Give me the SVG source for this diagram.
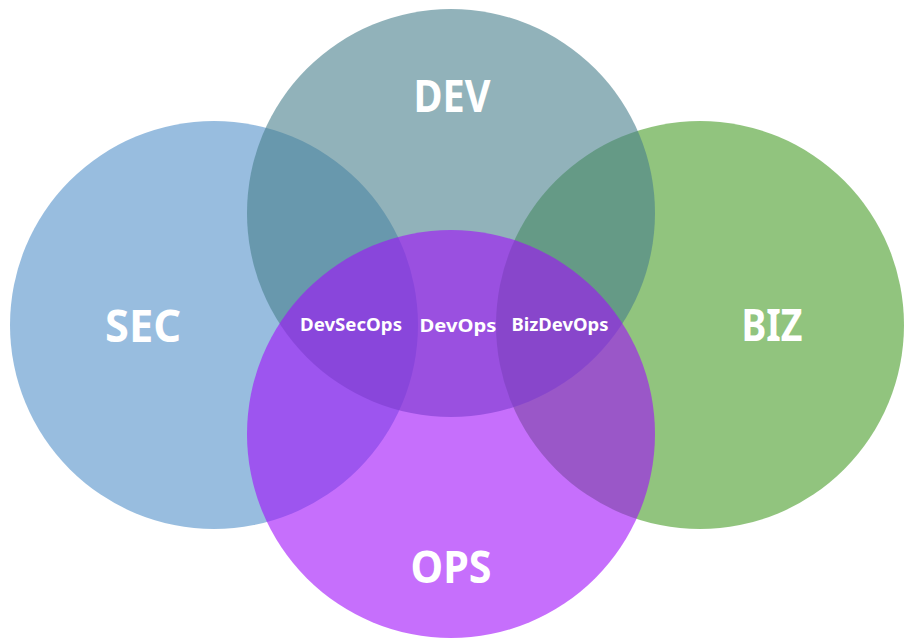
<svg xmlns="http://www.w3.org/2000/svg" width="904" height="639" viewBox="0 0 904 639">
<style>
.c{opacity:0.6}
.big{font-family:"Noto Sans","Open Sans",sans-serif;font-weight:bold;font-size:44px;fill:#fff;text-anchor:middle}
.small{font-family:"Noto Sans","Open Sans",sans-serif;font-weight:bold;font-size:17.5px;fill:#fff;text-anchor:middle}
</style>
<rect width="904" height="639" fill="#fff"/>
<g id="sec"><circle class="c" cx="214" cy="325" r="204" fill="#5391CA"/></g>
<g id="biz"><circle class="c" cx="700" cy="325" r="204" fill="#489D28"/></g>
<g id="dev"><circle class="c" cx="451" cy="213" r="204" fill="#487F8C"/></g>
<g id="ops"><circle class="c" cx="451" cy="434" r="204" fill="#A00FFA"/></g>
<g id="labels">
<text class="big" x="452" y="112" textLength="77" lengthAdjust="spacingAndGlyphs">DEV</text>
<text class="big" x="143" y="342" textLength="76" lengthAdjust="spacingAndGlyphs">SEC</text>
<text class="big" x="772" y="341" textLength="61" lengthAdjust="spacingAndGlyphs">BIZ</text>
<text class="big" x="451" y="583" textLength="81" lengthAdjust="spacingAndGlyphs">OPS</text>
<text class="small" x="351" y="331" textLength="102" lengthAdjust="spacingAndGlyphs">DevSecOps</text>
<text class="small" x="458" y="332" textLength="77" lengthAdjust="spacingAndGlyphs">DevOps</text>
<text class="small" x="560" y="331" textLength="97" lengthAdjust="spacingAndGlyphs">BizDevOps</text>
</g>
<g id="connectors"/>
</svg>
